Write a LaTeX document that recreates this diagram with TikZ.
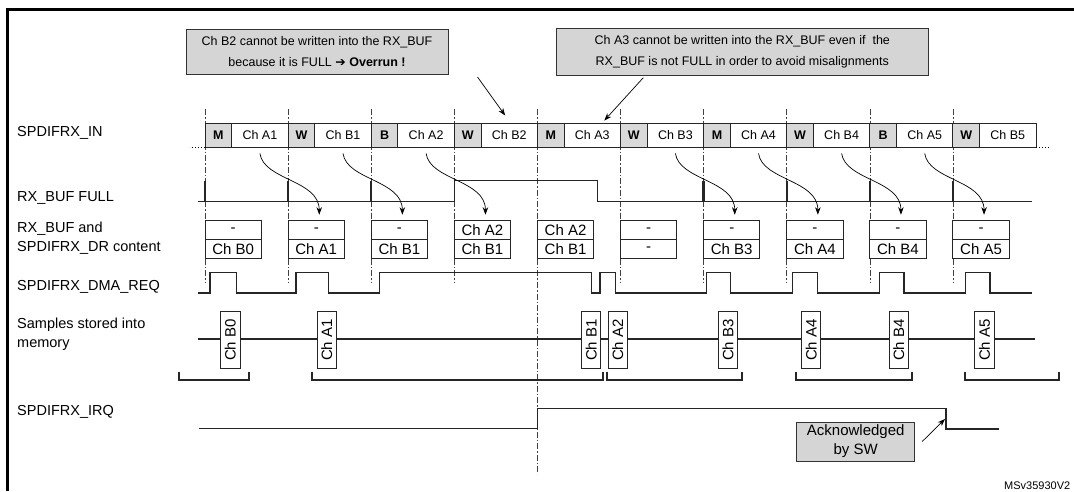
\documentclass[tikz,border=0pt]{standalone}
\usepackage{fontspec}
\setmainfont{Liberation Sans}
\newfontfamily\dejavu{DejaVu Sans}
\usetikzlibrary{arrows.meta}
\begin{document}
\begin{tikzpicture}[x=1pt,y=-1pt,
  lbl/.style={anchor=west,inner sep=0pt,align=left,font=\fontsize{14.5}{19}\selectfont},
  sigline/.style={line width=1.1pt,draw=black!85,line join=miter},
  spike/.style={line width=2.4pt,draw=black!85},
  tickln/.style={line width=0.6pt,draw=black!75,dash pattern=on 6pt off 2pt on 1.5pt off 2pt},
  hdr/.style={draw=black!85,line width=0.9pt,fill=gray!30,minimum width=26.7pt,minimum height=24pt,inner sep=0pt,font=\bfseries\fontsize{12.5}{14}\selectfont},
  dat/.style={draw=black!85,line width=0.9pt,fill=white,minimum width=56.4pt,minimum height=24pt,inner sep=0pt,font=\fontsize{12.5}{14}\selectfont},
  buf/.style={draw=black!85,line width=0.9pt,fill=white,minimum width=56.3pt,minimum height=18.8pt,inner sep=0pt,font=\fontsize{15}{16}\selectfont},
  smp/.style={draw=black!85,line width=0.9pt,fill=white,minimum width=56.7pt,minimum height=19.3pt,inner sep=0pt,rotate=90,font=\fontsize{15}{16}\selectfont},
  brk/.style={line width=2pt,draw=black!85},
  callout/.style={draw=black!80,line width=1pt,fill=gray!33,align=center,inner sep=0pt,font=\fontsize{12.5}{21}\selectfont},
  arr/.style={-{Stealth[length=7.5pt,width=5.5pt]},line width=0.7pt,draw=black}
]
\useasboundingbox (0,0) rectangle (1074,491);
% frame
\draw[line width=2.5pt] (7.3,491) -- (7.3,9.6) -- (1074,9.6);

% tick lines
\foreach \k in {0,...,9}{
  \pgfmathsetmacro\tx{205+83.1*\k}
  \draw[tickln] (\tx,109) -- (\tx,282);
}
\draw[tickln] (537.4,282) -- (537.4,474);

% labels
\node[lbl] (lin) at (17,132.6) {SPDIFRX\_IN};
\node[lbl] (lfull) at (17,198.3) {RX\_BUF FULL};
\node[lbl] (lbuf) at (17,237.8) {RX\_BUF and\\SPDIFRX\_DR content};
\node[lbl] (ldma) at (17,286.7) {SPDIFRX\_DMA\_REQ};
\node[lbl] (lsmp) at (17,333.9) {Samples stored into\\memory};
\node[lbl] (lirq) at (17,412) {SPDIFRX\_IRQ};

% RX_BUF FULL waveform
\draw[sigline] (198.3,201.7) -- (454.3,201.7) -- (454.3,180.7) -- (597.3,180.7) -- (597.3,201.7) -- (1031.7,201.7);
\foreach \k in {0,1,2,6,7,8,9}{
  \pgfmathsetmacro\tx{205+83.1*\k}
  \draw[spike] (\tx,180.7) -- (\tx,201.7);
}

% DMA REQ waveform
\draw[sigline] (198.3,293) -- (210,293) -- (210,272.7) -- (236.7,272.7) -- (236.7,293)
  -- (296,293) -- (296,272.7) -- (328.3,272.7) -- (328.3,293)
  -- (379.3,293) -- (379.3,272.7) -- (591.7,272.7) -- (591.7,293)
  -- (600,293) -- (600,272.7) -- (615.5,272.7) -- (615.5,293)
  -- (706.7,293) -- (706.7,272.7) -- (730.7,272.7) -- (730.7,293)
  -- (792.7,293) -- (792.7,272.7) -- (817.3,272.7) -- (817.3,293)
  -- (879.3,293) -- (879.3,272.7) -- (904,272.7) -- (904,293)
  -- (965.7,293) -- (965.7,272.7) -- (990,272.7) -- (990,293) -- (1031.7,293);

% samples baseline
\draw[sigline] (198.3,339) -- (1035,339);

% IRQ waveform
\draw[sigline] (198.7,428.4) -- (537.4,428.4) -- (537.4,408.8) -- (946,408.8) -- (946,429) -- (999.4,429);

% SPDIFRX_IN row
\foreach \k/\h/\d in {0/M/Ch A1,1/W/Ch B1,2/B/Ch A2,3/W/Ch B2,4/M/Ch A3,5/W/Ch B3,6/M/Ch A4,7/W/Ch B4,8/B/Ch A5,9/W/Ch B5}{
  \pgfmathsetmacro\tx{205+83.1*\k}
  \node[hdr] (h\k) at (\tx+13.35,135) {\h};
  \node[dat] (d\k) at (\tx+54.9,135) {\d};
}
\draw[dotted,line width=1pt] (h0.south west) -- +(-15,0);
\draw[dotted,line width=1pt] (d9.south east) -- +(13,0);

% buffer contents
\foreach \k/\t/\b in {0/-/Ch B0,1/-/Ch A1,2/-/Ch B1,3/Ch A2/Ch B1,4/Ch A2/Ch B1,5/-/-,6/-/Ch B3,7/-/Ch A4,8/-/Ch B4,9/-/Ch A5}{
  \pgfmathsetmacro\tx{205+83.1*\k}
  \node[buf] (bt\k) at (\tx+28.15,230.05) {\t};
  \node[buf] (bb\k) at (\tx+28.15,248.85) {\b};
}

% curved transfer arrows
\foreach \k/\j in {1/0,2/1,3/2,6/5,7/6,8/7,9/8}{
  \draw[arr] ([yshift=-6pt]d\j.south) .. controls +(4,27) and +(0,-35) .. ([xshift=3pt,yshift=5.5pt]bt\k.north);
}

% samples stored into memory
\foreach \n/\x/\t in {s0/230.35/Ch B0,s1/326.65/Ch A1,s2/591.2/Ch B1,s3/617.8/Ch A2,s4/728/Ch B3,s5/811.2/Ch A4,s6/898.8/Ch B4,s7/984.5/Ch A5}{
  \node[smp] (\n) at (\x,340) {\t};
}

% brackets
\foreach \a/\b in {179/249.3,311.7/603.3,606.7/741.7,795.7/912.3,965/1059.3}{
  \draw[brk] (\a,371.7) -- (\a,380) -- (\b,380) -- (\b,371.7);
}

% callouts
\node[callout,minimum width=262pt,minimum height=45pt] (c1) at (317,51.5)
  {Ch B2 cannot be written into the RX\_BUF\\because it is FULL {\dejavu ➔} \textbf{Overrun !}};
\node[callout,minimum width=372.6pt,minimum height=47.2pt] (c2) at (742.3,52.1)
  {Ch A3 cannot be written into the RX\_BUF even if~ the\\RX\_BUF is not FULL in order to avoid misalignments};
\draw[arr] ([xshift=29pt,yshift=-2.5pt]c1.south east) -- ([xshift=-4pt,yshift=7pt]d3.north);
\draw[arr] ([xshift=-99pt,yshift=-1.5pt]c2.south) -- ([xshift=12pt,yshift=2pt]d4.north);

% acknowledge
\node[callout,font=\fontsize{15}{19}\selectfont,minimum width=118pt,minimum height=39pt] (ack) at (855.7,441.5) {Acknowledged\\by SW};
\coordinate (irqfall) at (945,419);
\draw[arr] ([xshift=7pt]ack.east) -- (irqfall);

\node[anchor=west,inner sep=0pt,font=\fontsize{11}{13}\selectfont] (msv) at (1004,486) {MSv35930V2};
\end{tikzpicture}
\end{document}
